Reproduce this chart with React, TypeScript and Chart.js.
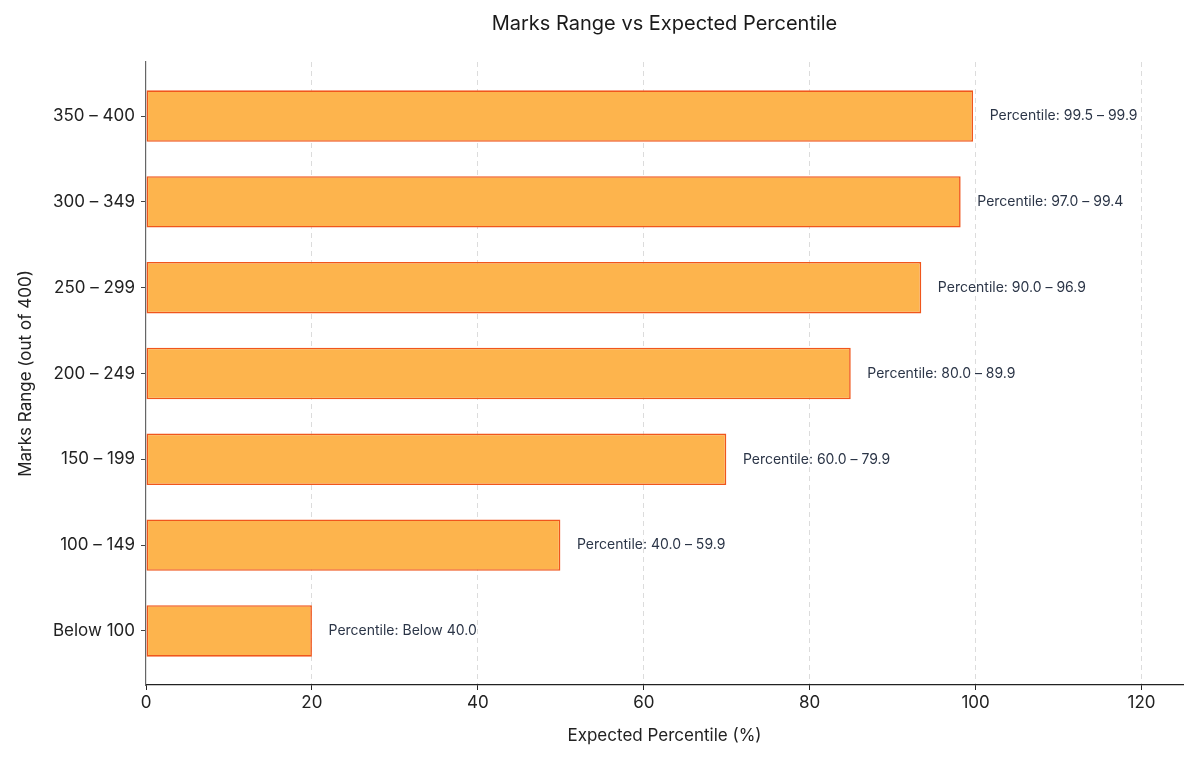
import React, { useEffect, useRef } from "react";
import { Chart, registerables } from "chart.js";

Chart.register(...registerables);

// Score bands, listed bottom to top
const markRanges = ["Below 100", "100 – 149", "150 – 199", "200 – 249", "250 – 299", "300 – 349", "350 – 400"];
// Bar length: midpoint of each expected percentile band
const percentileValues = [20, 49.95, 69.95, 84.95, 93.45, 98.2, 99.7];
const percentileLabels = [
  "Percentile: Below 40.0",
  "Percentile: 40.0 – 59.9",
  "Percentile: 60.0 – 79.9",
  "Percentile: 80.0 – 89.9",
  "Percentile: 90.0 – 96.9",
  "Percentile: 97.0 – 99.4",
  "Percentile: 99.5 – 99.9",
];
const xTicks = [0, 20, 40, 60, 80, 100, 120];

const FONT = "Inter, 'Open Sans', sans-serif";
const TITLE = "Marks Range vs Expected Percentile";

const barLabelPlugin = {
  id: "barLabels",
  afterDatasetsDraw(chart: any) {
    const { ctx } = chart;
    const xScale = chart.scales.x;
    const meta = chart.getDatasetMeta(0);
    ctx.save();
    ctx.font = `14px ${FONT}`;
    ctx.fillStyle = "#2b3547";
    ctx.textAlign = "left";
    ctx.textBaseline = "middle";
    meta.data.forEach((bar: any, i: number) => {
      const x = xScale.getPixelForValue(percentileValues[i] + 2);
      ctx.fillText(percentileLabels[i], x, bar.y);
    });
    ctx.restore();
  },
};

const titlePlugin = {
  id: "areaTitle",
  afterDraw(chart: any) {
    const { ctx, chartArea } = chart;
    ctx.save();
    ctx.font = `20px ${FONT}`;
    ctx.fillStyle = "#1a1a1a";
    ctx.textAlign = "center";
    ctx.textBaseline = "middle";
    ctx.fillText(TITLE, (chartArea.left + chartArea.right) / 2, 24);
    ctx.restore();
  },
};

export default function App() {
  const canvasRef = useRef<HTMLCanvasElement | null>(null);

  useEffect(() => {
    if (!canvasRef.current) return;
    const chart = new Chart(canvasRef.current, {
      type: "bar",
      data: {
        datasets: [
          {
            data: percentileValues.map((v, i) => ({ x: v, y: i })),
            backgroundColor: "#FDB44D",
            borderColor: "#F0561C",
            borderWidth: 1.6,
            borderSkipped: false,
            barPercentage: 0.6,
            categoryPercentage: 1,
          },
        ],
      },
      options: {
        indexAxis: "y",
        responsive: false,
        animation: false,
        layout: { padding: { top: 62, right: 17, bottom: 0, left: 0 } },
        plugins: {
          legend: { display: false },
          tooltip: { enabled: false },
          title: { display: false },
        },
        scales: {
          x: {
            type: "linear",
            min: 0,
            max: 125,
            afterBuildTicks: (scale: any) => {
              scale.ticks = xTicks.map((v) => ({ value: v }));
            },
            afterFit: (scale: any) => {
              scale.height = 79;
            },
            ticks: {
              color: "#222",
              font: { family: FONT, size: 17 },
              padding: 3,
            },
            grid: {
              color: (c: any) => (c.tick && c.tick.value === 0 ? "rgba(0,0,0,0)" : "#dcdcdc"),
              lineWidth: 1,
              tickColor: "#222",
              tickLength: 5,
            },
            border: { display: true, color: "#222", width: 1.2, dash: [5, 4] },
            title: {
              display: true,
              text: "Expected Percentile (%)",
              color: "#222",
              font: { family: FONT, size: 17 },
              padding: { top: 0, bottom: 18 },
            },
          },
          y: {
            type: "linear",
            offset: false,
            min: -0.63,
            max: 6.63,
            afterBuildTicks: (scale: any) => {
              scale.ticks = markRanges.map((_, i) => ({ value: i }));
            },
            afterFit: (scale: any) => {
              scale.width = 146;
            },
            ticks: {
              color: "#222",
              font: { family: FONT, size: 17 },
              padding: 6,
              callback: (v: any) => markRanges[Math.round(Number(v))] ?? "",
            },
            grid: {
              offset: false,
              drawOnChartArea: false,
              tickColor: "#444",
              tickLength: 5,
            },
            border: { display: true, color: "#666", width: 1.2 },
            title: {
              display: true,
              text: "Marks Range (out of 400)",
              color: "#222",
              font: { family: FONT, size: 17 },
              padding: { top: 16, bottom: 0 },
            },
          },
        },
      },
      plugins: [barLabelPlugin, titlePlugin],
    });
    return () => chart.destroy();
  }, []);

  return (
    <div style={{ position: "absolute", left: 0, top: 0, width: 1200, height: 764, background: "#fff" }}>
      <canvas ref={canvasRef} width={1200} height={764} />
    </div>
  );
}
